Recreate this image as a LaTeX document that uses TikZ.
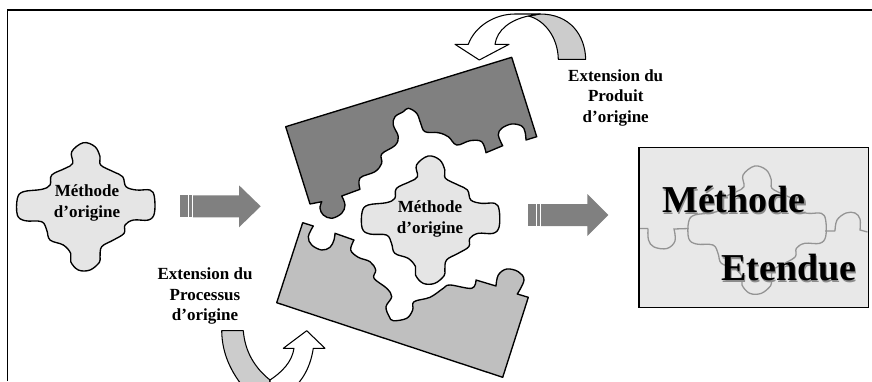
\documentclass[tikz,border=0pt]{standalone}
\usepackage{fontspec}
\setmainfont{Liberation Serif}
\tikzset{
  piece/.style={draw=black,line width=1.35pt,line join=round},
  arcarrow/.style={draw=black,line width=1.05pt,line join=round},
  blockarrow/.style={fill=black!50,draw=none},
  label/.style={font=\fontsize{17}{20}\selectfont\bfseries,anchor=base,inner sep=0pt,text=black},
  bigtext/.style={font=\fontsize{38}{40}\selectfont\bfseries,anchor=base,inner sep=0pt},
  ghost/.style={line width=1.3pt,draw=black!42},
}
\newcommand{\puzzleshape}[3]{%
  \begin{scope}[shift={(#1,#2)},x=.3333pt,y=-.3333pt,shift={(-257,-230)}]
    \draw[#3] plot[smooth cycle,tension=.6] coordinates {(250,38)(285,50)(300,80)(302,105)(340,125)(368,140)(378,170)(410,180)(450,180)(463,200)(463,250)(445,270)(400,270)(375,285)(372,310)(340,330)(305,350)(300,380)(298,397)(270,420)(235,420)(212,395)(212,370)(190,345)(150,330)(140,300)(125,275)(75,272)(52,255)(52,205)(70,185)(125,178)(150,165)(155,135)(195,115)(218,100)(215,65)};
  \end{scope}}
\newcommand{\blockarr}[7]{%
  \fill[blockarrow] (#1,#4-#5) rectangle ++(#7,2*#5);
  \fill[blockarrow] (#1+#7+.8,#4-#5) rectangle ++(#7,2*#5);
  \fill[blockarrow] (#1+2*#7+1.6,#4-#5) rectangle ++(#7,2*#5);
  \fill[blockarrow] (#1+3*#7+2.4,#4-#5) -- (#2,#4-#5) -- (#2,#4-#6) -- (#3,#4) -- (#2,#4+#6) -- (#2,#4+#5) -- (#1+3*#7+2.4,#4+#5) -- cycle;}
\begin{document}
\begin{tikzpicture}[x=1pt,y=-1pt]
\useasboundingbox (0,0) rectangle (872,381);
\clip (0,0) rectangle (872,381);
% frame
\draw[line width=1.5pt,line cap=butt] (7.7,381) -- (7.7,10) -- (872,10);

% left puzzle
\puzzleshape{85.7}{206.7}{piece,fill=black!10}
\node[label] (origA) at (87,196.7) {Méthode};
\node[label] (origB) at (87,217) {d’origine};

% arrows
\blockarr{180}{239}{260.7}{206.3}{11}{21}{3.6}
\blockarr{528}{587.3}{608.3}{215}{11}{21}{3.6}

% dark piece
\draw[piece,fill=black!50] (285.7,126.7) -- (511.7,57.3) -- (536.7,136.7) -- (526,140)
  -- plot[smooth,tension=.6] coordinates {(526,140)(525,131.7)(521.7,126)(511.7,124)(501.7,128.3)(498.3,135)(502.7,145.7)}
  -- (486,152.7)
  -- plot[smooth,tension=.6] coordinates {(486,152.7)(481.7,141.7)(470,140.7)(456.7,145)(448.3,136.7)(438.3,132.7)(425,131.7)(420.7,123.3)(416.7,113.3)(408.3,108.3)(403.3,111.7)(395,116.7)(393.3,125)(398.3,136.7)(395,145.5)(381.7,154)(381.7,163.3)(375,171.7)(360,178)(360,189.3)}
  -- (341.7,196)
  -- plot[smooth,tension=.6] coordinates {(341.7,196)(345,205)(341.7,213.3)(331.7,218.3)(323.3,215)(320,208.3)(321.7,201.7)}
  -- (310,204) -- cycle;

% light piece
\draw[piece,fill=black!25] (276.7,302.7) -- (302.7,222.7) -- (313.3,226)
  -- plot[smooth,tension=.6] coordinates {(313.3,226)(308.3,236.7)(311.7,245)(321.7,250)(330,247.3)(334,240)(335,233.3)}
  -- (354,240)
  -- plot[smooth,tension=.6] coordinates {(354,240)(350.7,250)(358.3,257.3)(370,261.7)(375.7,270)(374,278.3)(386.7,288.3)(391.7,296.7)(386,306.7)(389.3,316.7)(393.3,320.7)(406.7,318.3)(412.7,310)(414,301.7)(430,297.3)(443.3,288.3)(450,285)(471.7,288.3)(476,280)}
  -- (496,286)
  -- plot[smooth,tension=.6] coordinates {(496,286)(498.3,275)(506.7,269)(518.3,271.7)(524,280)(517.3,294)}
  -- (528.3,297.3) -- (502.7,377.3) -- cycle;

% centre puzzle
\puzzleshape{430.5}{220}{piece,fill=black!10}
\node[label] (midA) at (430,212.3) {Méthode};
\node[label] (midB) at (430,233.3) {d’origine};

% top curved arrow
\draw[arcarrow,fill=black!20] (528.3,16) .. controls (545,20) and (558,38) .. (558.3,59.3)
  -- (585.7,59.3) -- (585.7,59.3) .. controls (585,35) and (570,14) .. (540,14) -- cycle;
\draw[arcarrow,fill=white] (468.3,44.3) .. controls (475,26) and (495,14) .. (515,14)
  -- (540,14) -- (528.3,16) .. controls (510,20) and (497,30) .. (495,44.3)
  -- (509,44.3) -- (479.3,60) -- (455,44.3) -- cycle;
\node[label] (prodA) at (615.7,81.7) {Extension du};
\node[label] (prodB) at (615.7,101.7) {Produit};
\node[label] (prodC) at (615.7,122.7) {d’origine};

% bottom curved arrow
\draw[arcarrow,fill=black!20] (221.7,330.7) -- (243.3,330.7)
  .. controls (245,352) and (255,368) .. (270,380) -- (270,395) -- (250,395)
  .. controls (232,375) and (222,355) .. (221.7,330.7) -- cycle;
\draw[arcarrow,fill=white] (270,380) .. controls (282,372) and (292,362) .. (294,348.3)
  -- (283.3,348.3) -- (306.7,330.7) -- (325,348.3) -- (313.3,348.3)
  .. controls (310,370) and (300,385) .. (285,395) -- (270,395) -- cycle;
\node[label] (procA) at (205,279.3) {Extension du};
\node[label] (procB) at (205,300) {Processus};
\node[label] (procC) at (205,320) {d’origine};

% result box
\fill[black!30] (640,148.7) rectangle (869.3,308.3);
\draw[line width=1.3pt,fill=black!9] (639,147.7) rectangle (868.3,307.3);
\puzzleshape{757}{230}{ghost}
\draw[ghost] (640,228.5) -- (648,228.5)
  plot[smooth,tension=.6] coordinates {(648,228.5)(648.5,240)(654,247)(667,248.5)(675,241)(674,229)}
  -- (688.5,228.5);
\draw[ghost] (825,231) -- (835,231)
  plot[smooth,tension=.6] coordinates {(835,231)(837,220)(846,213)(855,213)(860,219)(860,230)}
  -- (867.5,232);
\node[bigtext,text=black!45] at (735.2,214.2) {Méthode};
\node[bigtext,text=black!45] at (790.2,282.2) {Etendue};
\node[bigtext] (resA) at (734,212.9) {Méthode};
\node[bigtext] (resB) at (789,280.9) {Etendue};
\end{tikzpicture}
\end{document}
